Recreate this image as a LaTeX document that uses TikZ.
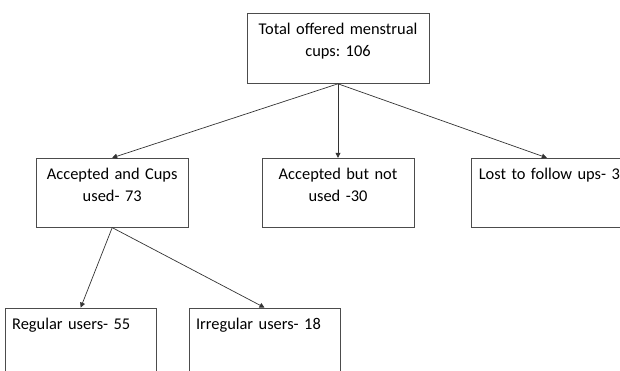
\documentclass[tikz,border=0pt]{standalone}
\usepackage{fontspec}
\setmainfont{Carlito}
\frenchspacing
\usetikzlibrary{positioning,arrows.meta}
\tikzset{
  box/.style = {draw=black!70, line width=0.8pt, inner xsep=7pt, inner ysep=0pt,
    text width=138pt, text height=21.5pt, text depth=47.5pt,
    font=\fontsize{16.4}{22}\selectfont},
  arrow/.style = {draw=black!80, line width=0.7pt, -{Triangle[length=5pt,width=5pt]}}
}
\begin{document}
\begin{tikzpicture}
            \useasboundingbox (0,0) rectangle (620pt,-370pt);
            \node[box, align=center, text width=168pt, text depth=48.5pt, anchor=north] (total) at (338pt,-13pt) {Total offered menstrual\\cups: 106};
            \node[box, align=center] (notused) [below=74pt of total] {Accepted but not\\used -30};
            \node[box, align=center] (used) [left=73pt of notused] {Accepted and Cups\\used- 73};
            % box runs off the right edge of the page
            \node[box, align=left, text width=150pt] (lost) [right=57pt of notused] {Lost to follow ups- 3};
            \node[box, align=left, text width=137pt] (regular) [below=80pt of used, xshift=-31.5pt] {Regular users- 55};
            \node[box, align=left, text width=137pt] (irregular) [right=32pt of regular] {Irregular users- 18};
            \draw[arrow] (total.south) -- (used.north);
            \draw[arrow] (total.south) -- (notused.north);
            \draw[arrow] (total.south) -- ([xshift=-7pt]lost.north);
            \draw[arrow] (used.south) -- (regular.north);
            \draw[arrow] (used.south) -- (irregular.north);
        \end{tikzpicture}
\end{document}
